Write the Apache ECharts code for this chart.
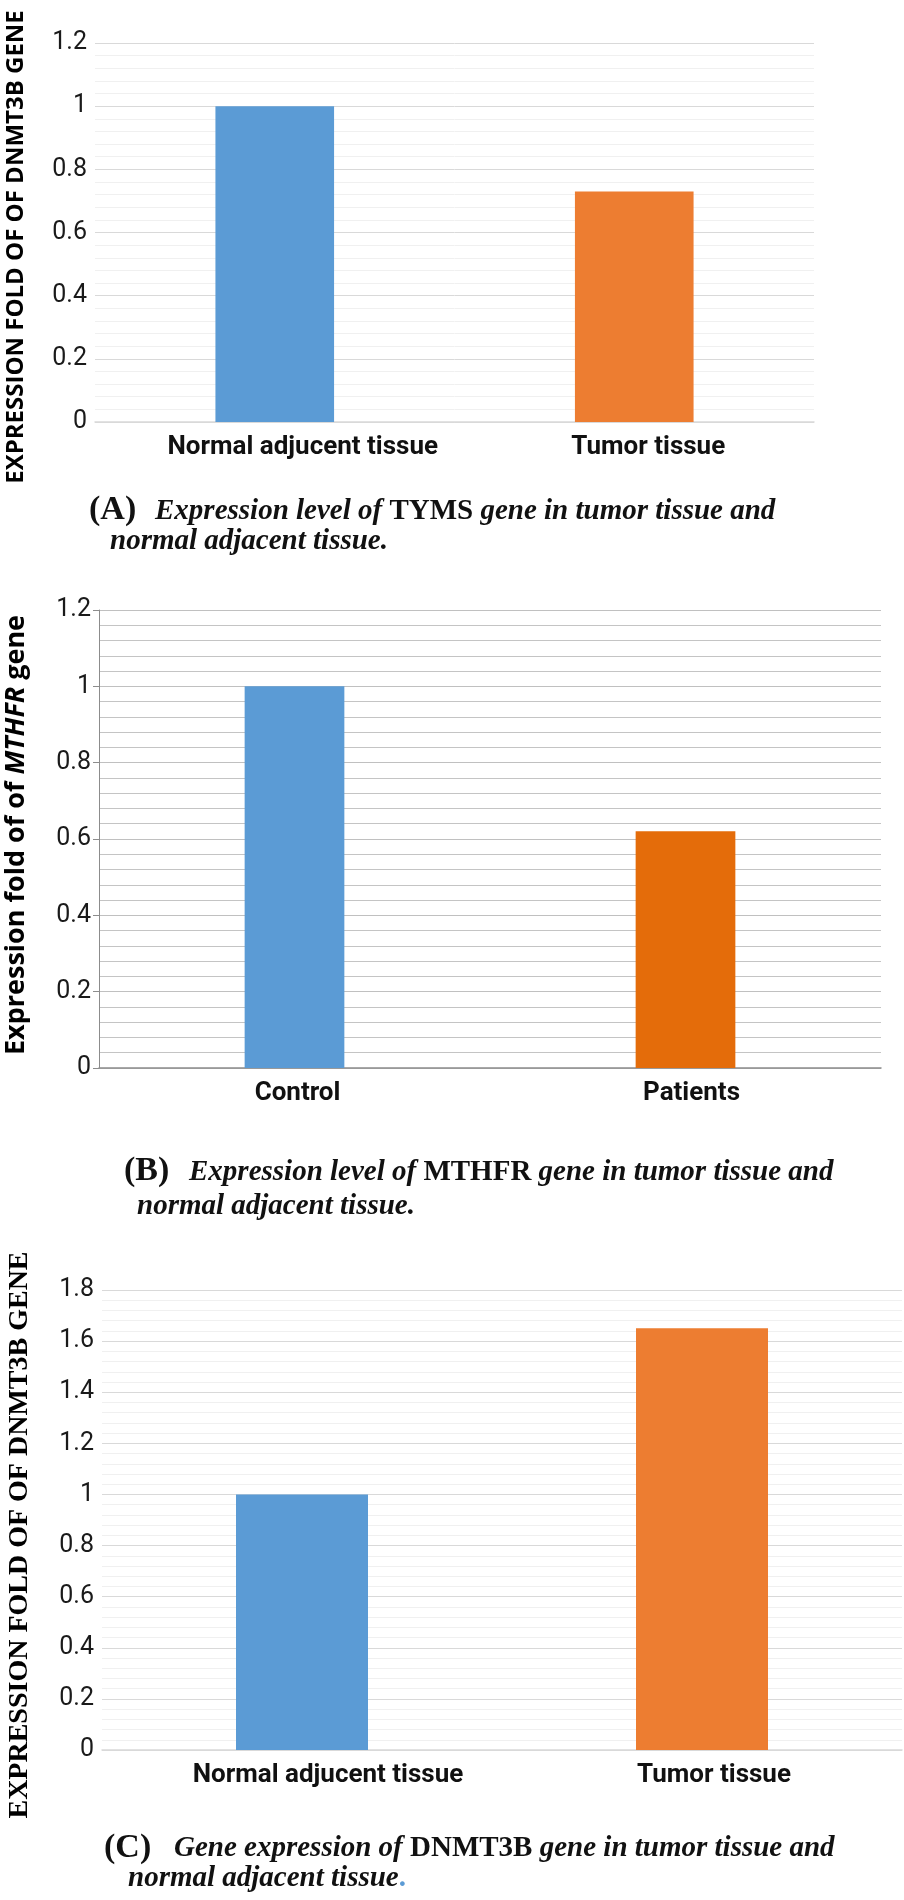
<!DOCTYPE html>
<html>
<head>
<meta charset="utf-8">
<script src="https://cdn.jsdelivr.net/npm/echarts@6/dist/echarts.min.js"></script>
<style>
  html, body { margin: 0; padding: 0; background: #fff; }
  #chart { width: 904px; height: 1900px; }
</style>
</head>
<body>
<div id="chart"></div>
<script>
// panel A - TYMS
const catsA = ['Normal adjucent tissue', 'Tumor tissue']
const valsA = [1, 0.73]
// panel B - MTHFR
const catsB = ['Control', 'Patients']
const valsB = [1, 0.62]
// panel C - DNMT3B
const catsC = ['Normal adjucent tissue', 'Tumor tissue']
const valsC = [1, 1.65]

const colorsA = ['#5B9BD5', '#ED7D31']
const colorsB = ['#5B9BD5', '#E46C0A']
const colorsC = ['#5B9BD5', '#ED7D31']

const tickFont = 'Roboto, sans-serif'
const serif = "'Liberation Serif', 'Times New Roman', serif"

// labels in the original sit a little right of their bars
const labelShiftA = [56, 28]
const labelShiftB = [6, 12]
const labelShiftC = [52, 24]

const chart = echarts.init(document.getElementById('chart'))

const yAxisBase = (max, style) => ({
  type: 'value',
  min: 0,
  max: max,
  interval: 0.2,
  axisLabel: { fontSize: 25, color: '#1a1a1a', fontFamily: tickFont, margin: 8 },
  splitLine: { lineStyle: { color: style.major, width: 1 } },
  minorTick: { show: false, splitNumber: 5 },
  minorSplitLine: { show: true, lineStyle: { color: style.minor, width: 1 } },
  axisLine: { show: style.axisLine, lineStyle: { color: '#8c8c8c' } },
  axisTick: { show: style.axisLine, length: 6, lineStyle: { color: '#8c8c8c' } }
})

const xAxisBase = (cats, gi, lineColor, shift) => {
  const rich = {}
  shift.forEach((s, i) => {
    rich['s' + i] = {
      fontSize: 26, fontWeight: 'bold', color: '#111', fontFamily: tickFont,
      padding: [0, 0, 0, s]
    }
  })
  return {
    type: 'category',
    gridIndex: gi,
    data: cats,
    axisTick: { show: false },
    axisLine: { lineStyle: { color: lineColor, width: 1.5 } },
    axisLabel: {
      interval: 0,
      hideOverlap: false,
      fontSize: 26, fontWeight: 'bold', color: '#111', fontFamily: tickFont, margin: 12,
      formatter: (v, i) => '{s' + i + '|' + v + '}',
      rich: rich
    }
  }
}

const barSeries = (vals, colors, gi, width) => ({
  type: 'bar',
  xAxisIndex: gi,
  yAxisIndex: gi,
  barWidth: width,
  data: vals.map((v, i) => ({ value: v, itemStyle: { color: colors[i] } })),
  silent: true
})

const captionRich = {
  i: { fontFamily: serif, fontSize: 29, fontWeight: 'bold', fontStyle: 'italic', fill: '#111' },
  u: { fontFamily: serif, fontSize: 29, fontWeight: 'bold', fill: '#111' },
  d: { fontFamily: serif, fontSize: 29, fontWeight: 'bold', fill: '#5B9BD5' }
}

const caption = (x, y, text) => ({
  type: 'text', x: x, y: y,
  style: { text: text, rich: captionRich, align: 'left', verticalAlign: 'middle' }
})

const panelLetter = (x, y, text) => ({
  type: 'text', x: x, y: y,
  style: { text: text, font: 'bold 34px ' + serif, fill: '#111', align: 'left', verticalAlign: 'middle' }
})

const option = {
  animation: false,
  grid: [
    { left: 95, top: 43, width: 719, height: 379 },
    { left: 99, top: 610, width: 782, height: 458 },
    { left: 102, top: 1290, width: 800, height: 460 }
  ],
  xAxis: [
    xAxisBase(catsA, 0, '#d9d9d9', labelShiftA),
    xAxisBase(catsB, 1, '#8c8c8c', labelShiftB),
    xAxisBase(catsC, 2, '#d9d9d9', labelShiftC)
  ],
  yAxis: [
    Object.assign(yAxisBase(1.2, { major: '#d9d9d9', minor: '#f0f0f0', axisLine: false }), { gridIndex: 0 }),
    Object.assign(yAxisBase(1.2, { major: '#c0c0c0', minor: '#c4c4c4', axisLine: true }), { gridIndex: 1 }),
    Object.assign(yAxisBase(1.8, { major: '#d9d9d9', minor: '#f0f0f0', axisLine: false }), { gridIndex: 2 })
  ],
  series: [
    barSeries(valsA, colorsA, 0, '33%'),
    barSeries(valsB, colorsB, 1, '25.5%'),
    barSeries(valsC, colorsC, 2, '33%')
  ],
  graphic: [
    // y axis titles
    {
      type: 'text', x: 16, y: 247, rotation: Math.PI / 2,
      style: { text: 'EXPRESSION FOLD OF OF DNMT3B GENE', font: "bold 24px 'Open Sans', sans-serif", fill: '#000', align: 'center', verticalAlign: 'middle' }
    },
    {
      type: 'text', x: 16, y: 835, rotation: Math.PI / 2,
      style: {
        text: '{b|Expression fold of of }{bi|MTHFR}{b| gene}',
        align: 'center', verticalAlign: 'middle',
        rich: {
          b: { fontFamily: "'Open Sans', sans-serif", fontSize: 27, fontWeight: 'bold', fill: '#000' },
          bi: { fontFamily: "'Open Sans', sans-serif", fontSize: 27, fontWeight: 'bold', fontStyle: 'italic', fill: '#000' }
        }
      }
    },
    {
      type: 'text', x: 20, y: 1535, rotation: Math.PI / 2,
      style: { text: 'EXPRESSION FOLD OF OF DNMT3B GENE', font: 'bold 28px ' + serif, fill: '#000', align: 'center', verticalAlign: 'middle' }
    },
    // captions
    panelLetter(89, 510, '(A)'),
    caption(155, 512, '{i|Expression level of }{u|TYMS}{i| gene in tumor tissue and}'),
    caption(110, 542, '{i|normal adjacent tissue.}'),
    panelLetter(124, 1171, '(B)'),
    caption(189, 1173, '{i|Expression level of }{u|MTHFR}{i| gene in tumor tissue and}'),
    caption(137, 1207, '{i|normal adjacent tissue.}'),
    panelLetter(104, 1848, '(C)'),
    caption(174, 1849, '{i|Gene expression of }{u|DNMT3B}{i| gene in tumor tissue and}'),
    caption(128, 1879, '{i|normal adjacent tissue}{d|.}')
  ]
}

chart.setOption(option)
</script>
</body>
</html>
